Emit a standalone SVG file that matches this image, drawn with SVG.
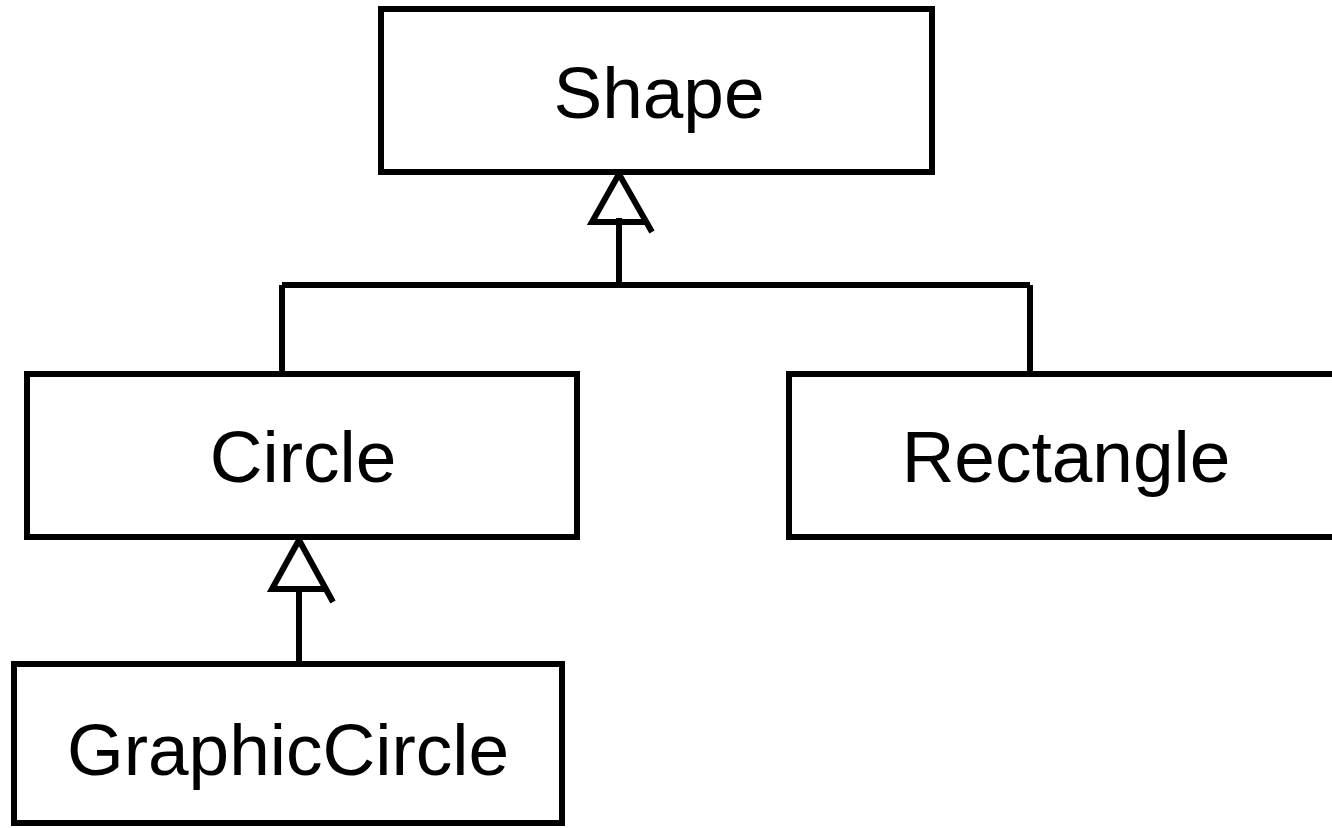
<svg xmlns="http://www.w3.org/2000/svg" width="1332" height="828" viewBox="0 0 1332 828">
<style>
.box{fill:#fff;stroke:#000;stroke-width:6}
.lbl{font-family:"Liberation Sans",Arial,sans-serif;font-size:73px;fill:#000;text-anchor:middle}
.ln{fill:none;stroke:#000;stroke-width:6}
</style>
<rect width="1332" height="828" fill="#fff"/>
<g id="connectors">
<path class="ln" d="M619,218 V285 M282,285 H1030 M282,285 V374 M1030,285 V374"/>
<path class="ln" d="M652,232 L619,174 L592,222 H647"/>
<path class="ln" d="M299,590 V663"/>
<path class="ln" d="M333,602 L299,540 L272,589 H327"/>
</g>
<g id="shape"><rect class="box" x="381" y="9" width="551" height="163"/><text class="lbl" x="659" y="118">Shape</text></g>
<g id="circle"><rect class="box" x="27" y="374" width="550" height="163"/><text class="lbl" x="303" y="482">Circle</text></g>
<g id="rectangle"><rect class="box" x="789" y="374" width="560" height="163"/><text class="lbl" x="1066" y="482">Rectangle</text></g>
<g id="graphiccircle"><rect class="box" x="14" y="664" width="548" height="159"/><text class="lbl" x="288" y="775">GraphicCircle</text></g>
</svg>
